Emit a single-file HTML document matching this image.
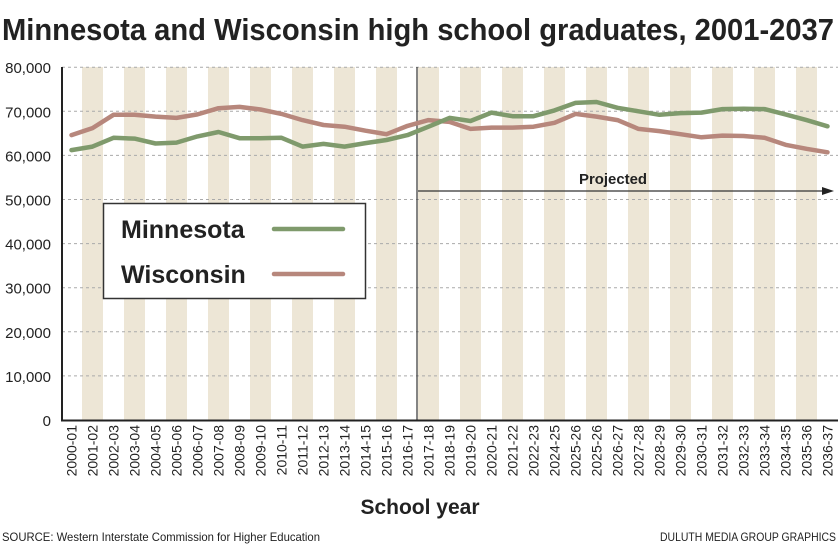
<!DOCTYPE html>
<html><head><meta charset="utf-8"><style>
html,body{margin:0;padding:0;background:#fff;width:840px;height:546px;overflow:hidden}
svg{display:block;font-family:"Liberation Sans",sans-serif}
</style></head><body>
<svg id="s" width="840" height="546" viewBox="0 0 840 546" xmlns="http://www.w3.org/2000/svg">
<text x="2" y="40" font-size="31" font-weight="bold" fill="#222" textLength="832" lengthAdjust="spacingAndGlyphs">Minnesota and Wisconsin high school graduates, 2001-2037</text>
<g id="stripes"></g>
<g id="grid"></g>
<g id="ylab" font-size="15" fill="#222" text-anchor="end"></g>
<line x1="417" y1="67" x2="417" y2="421" stroke="#333" stroke-width="1.2"/>
<line x1="418" y1="191" x2="824" y2="191" stroke="#333" stroke-width="1.2"/>
<polygon points="834,191 822,187 822,195" fill="#222"/>
<text x="613" y="184" font-size="15" font-weight="bold" fill="#222" text-anchor="middle" textLength="68" lengthAdjust="spacingAndGlyphs">Projected</text>
<polyline id="wi" fill="none" stroke="#b7877c" stroke-width="4.5" stroke-linejoin="round" stroke-linecap="round"/>
<polyline id="mn" fill="none" stroke="#7f9a6c" stroke-width="4.5" stroke-linejoin="round" stroke-linecap="round"/>
<line x1="62" y1="67" x2="62" y2="421" stroke="#222" stroke-width="2"/>
<line x1="61" y1="420.5" x2="838" y2="420.5" stroke="#222" stroke-width="2"/>
<rect x="103.5" y="203.5" width="262" height="95" fill="#fff" stroke="#333" stroke-width="1.5"/>
<text x="121" y="238" font-size="25" font-weight="bold" fill="#222">Minnesota</text>
<text x="121" y="283" font-size="25" font-weight="bold" fill="#222">Wisconsin</text>
<line x1="274" y1="229" x2="343" y2="229" stroke="#7f9a6c" stroke-width="4.5" stroke-linecap="round"/>
<line x1="274" y1="274" x2="343" y2="274" stroke="#b7877c" stroke-width="4.5" stroke-linecap="round"/>
<g id="xlab" font-size="14" fill="#222" text-anchor="end"></g>
<text x="420" y="514" font-size="21" font-weight="bold" fill="#222" text-anchor="middle">School year</text>
<text x="2" y="541" font-size="12" fill="#222" textLength="318" lengthAdjust="spacingAndGlyphs">SOURCE: Western Interstate Commission for Higher Education</text>
<text x="836" y="541" font-size="12" fill="#222" text-anchor="end" textLength="176" lengthAdjust="spacingAndGlyphs">DULUTH MEDIA GROUP GRAPHICS</text>
</svg>
<script>
var NS="http://www.w3.org/2000/svg";
function el(p,t,a,txt){var e=document.createElementNS(NS,t);for(var k in a)e.setAttribute(k,a[k]);if(txt!=null)e.textContent=txt;document.getElementById(p).appendChild(e);return e;}
var x0=61,w=21;
for(var i=1;i<37;i+=2)el("stripes","rect",{x:x0+w*i,y:67,width:w,height:354,fill:"#ede6d6"});
function Y(v){return 420-v/10*44.1;}
for(var k=0;k<=8;k++){var y=Y(k*10);
 if(k>0)el("grid","line",{x1:62,y1:y,x2:838,y2:y,stroke:"#aaa","stroke-width":1,"stroke-dasharray":"3,3"});
 el("ylab","text",{x:51,y:y+6},k==0?"0":(k*10)+",000");}
var mn=[61.2,62,64,63.8,62.7,62.9,64.3,65.3,63.9,63.9,64,62,62.6,62,62.8,63.5,64.6,66.5,68.5,67.8,69.7,68.9,68.9,70.2,71.9,72.1,70.8,70,69.2,69.6,69.7,70.5,70.6,70.5,69.3,68,66.6];
var wi=[64.6,66.2,69.2,69.2,68.8,68.5,69.3,70.7,71,70.4,69.4,68,66.9,66.5,65.6,64.8,66.7,68,67.6,66,66.3,66.3,66.5,67.4,69.4,68.8,68,66,65.5,64.8,64.1,64.5,64.4,64,62.4,61.5,60.7];
function pts(a){return a.map(function(v,i){return (x0+w*i+10.5).toFixed(1)+","+Y(v).toFixed(1)}).join(" ");}
document.getElementById("mn").setAttribute("points",pts(mn));
document.getElementById("wi").setAttribute("points",pts(wi));
for(var i=0;i<37;i++){var a=2000+i;
 if(i==23)a=2024; else if(i==24||i==25)a=2025;
 var b=(a+1)%100;var s=a+"-"+(b<10?"0":"")+b;
 var cx=x0+w*i+10.5+5;
 el("xlab","text",{x:0,y:0,transform:"translate("+cx+",425) rotate(-90)"},s);}
</script>
</body></html>
